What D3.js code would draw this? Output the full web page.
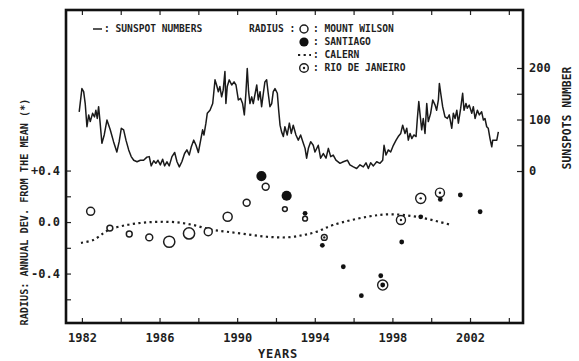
<!DOCTYPE html>
<html>
<head>
<meta charset="utf-8">
<script src="https://cdn.jsdelivr.net/npm/d3@7"></script>
<style>
  body { margin: 0; background: #fff; }
  svg { display: block; }
  text { font-family: "DejaVu Sans Mono", monospace; fill: #1e1e1e; }
</style>
</head>
<body>
<div id="chart"></div>
<script>
// sunspot numbers, [year, number]
const sunspots = [
  [1981.86,115],[1982.00,160],[1982.09,154],[1982.17,131],[1982.26,86],[1982.35,109],[1982.43,96],[1982.55,112],
  [1982.65,105],[1982.72,118],[1982.79,102],[1982.86,125],[1982.94,93],[1983.03,54],[1983.15,70],[1983.29,99],
  [1983.46,80],[1983.63,57],[1983.80,37],[1983.92,57],[1984.03,83],[1984.15,80],[1984.27,60],[1984.41,41],
  [1984.54,28],[1984.67,21],[1984.84,18],[1985.01,21],[1985.18,21],[1985.35,27],[1985.47,28],[1985.57,10],
  [1985.70,20],[1985.81,15],[1985.92,21],[1986.04,12],[1986.16,23],[1986.26,10],[1986.38,18],[1986.50,10],
  [1986.64,28],[1986.78,36],[1986.90,18],[1987.02,8],[1987.15,18],[1987.29,34],[1987.41,41],[1987.53,31],
  [1987.63,46],[1987.76,60],[1987.88,50],[1988.00,36],[1988.12,60],[1988.22,80],[1988.29,70],[1988.39,93],
  [1988.46,112],[1988.60,118],[1988.74,131],[1988.80,154],[1988.86,177],[1988.94,167],[1989.03,154],[1989.11,164],
  [1989.20,144],[1989.28,157],[1989.37,193],[1989.42,131],[1989.49,164],[1989.59,177],[1989.72,167],[1989.84,173],
  [1989.94,167],[1990.06,138],[1990.18,141],[1990.28,131],[1990.37,109],[1990.45,151],[1990.52,199],[1990.59,154],
  [1990.66,131],[1990.75,144],[1990.83,131],[1990.93,151],[1991.01,167],[1991.09,138],[1991.18,154],[1991.26,125],
  [1991.35,151],[1991.43,173],[1991.52,177],[1991.60,151],[1991.69,125],[1991.78,131],[1991.86,154],[1991.95,160],
  [1992.07,151],[1992.14,118],[1992.21,89],[1992.29,76],[1992.38,67],[1992.46,86],[1992.58,70],[1992.69,93],
  [1992.79,73],[1992.89,89],[1993.03,70],[1993.15,60],[1993.27,70],[1993.41,54],[1993.50,44],[1993.58,25],
  [1993.67,44],[1993.79,57],[1993.92,50],[1994.01,37],[1994.18,50],[1994.30,25],[1994.44,34],[1994.58,25],
  [1994.70,44],[1994.82,28],[1994.95,31],[1995.09,21],[1995.30,15],[1995.47,18],[1995.68,21],[1995.81,12],
  [1995.99,8],[1996.16,5],[1996.33,12],[1996.50,8],[1996.64,16],[1996.76,5],[1996.88,16],[1997.02,10],
  [1997.19,18],[1997.36,15],[1997.50,21],[1997.57,50],[1997.67,31],[1997.79,41],[1997.91,37],[1998.05,50],
  [1998.19,60],[1998.30,67],[1998.43,73],[1998.53,89],[1998.65,73],[1998.74,83],[1998.82,60],[1998.91,73],
  [1999.00,63],[1999.11,70],[1999.22,67],[1999.28,99],[1999.36,135],[1999.42,112],[1999.51,80],[1999.59,102],
  [1999.68,73],[1999.77,131],[1999.85,96],[1999.97,112],[2000.08,138],[2000.20,128],[2000.28,118],[2000.37,138],
  [2000.42,170],[2000.49,151],[2000.59,125],[2000.71,105],[2000.83,102],[2000.93,109],[2001.06,83],[2001.14,112],
  [2001.23,102],[2001.32,118],[2001.40,93],[2001.52,122],[2001.62,151],[2001.69,118],[2001.79,131],[2001.86,122],
  [2001.96,128],[2002.09,112],[2002.17,125],[2002.26,102],[2002.38,118],[2002.48,109],[2002.60,115],[2002.69,99],
  [2002.77,102],[2002.86,86],[2002.94,83],[2003.03,63],[2003.12,47],[2003.17,60],[2003.29,60],[2003.38,60],
  [2003.46,76]
];

// Calern radius curve, [year, deviation]
const calern = [
  [1981.95,-0.161],[1982.58,-0.140],[1983.10,-0.088],[1983.44,-0.057],[1984.30,-0.023],[1985.16,-0.005],
  [1986.00,0.002],[1986.88,-0.002],[1987.74,-0.023],[1988.60,-0.057],[1989.46,-0.075],[1990.49,-0.095],
  [1991.52,-0.114],[1992.55,-0.119],[1993.41,-0.101],[1994.10,-0.075],[1994.94,-0.023],[1996.70,0.041],
  [1997.88,0.060],[1999.25,0.041],[2000.92,-0.018]
];

// radius points, [year, deviation, weight]
const mountWilson = [
  [1982.45,0.083,4],[1983.44,-0.047,2],[1984.44,-0.093,2],[1985.47,-0.119,3],[1986.50,-0.153,7],
  [1987.52,-0.088,7],[1988.51,-0.075,4],[1989.51,0.041,5],[1990.49,0.150,3],[1991.47,0.274,3],
  [1992.46,0.101,1],[1993.50,0.026,1]
];
const santiago = [
  [1991.25,0.357,6],[1992.55,0.204,6],[1993.50,0.068,1],[1994.39,-0.181,1],[1995.47,-0.347,1],
  [1996.40,-0.572,1],[1997.40,-0.417,1],[1997.50,-0.489,1],[1998.48,-0.155,1],[1999.46,0.041,1],
  [2000.47,0.176,1],[2001.50,0.210,1],[2002.52,0.080,1]
];
const rioDeJaneiro = [
  [1994.49,-0.119,2],[1997.50,-0.489,6],[1998.44,0.016,5],[1999.46,0.184,6],[2000.45,0.228,5]
];

const yearTicks = [1982,1984,1986,1988,1990,1992,1994,1996,1998,2000,2002,2004];
const yearLabels = [1982,1986,1990,1994,1998,2002];
const devTicks = [-0.6,-0.4,-0.2,0,0.2,0.4];
const devLabels = [-0.4,0,0.4];
const sunTicks = [0,50,100,150,200];
const sunLabels = [0,100,200];

const W = 579, H = 361;
const m = {l: 66, r: 523, t: 10, b: 323};

const svg = d3.select('#chart').append('svg')
  .attr('width', W).attr('height', H);

const x = d3.scaleLinear().domain([1981.18, 2004.73]).range([m.l, m.r]);
const yDev = d3.scaleLinear().domain([-0.784, 1.647]).range([m.b, m.t]);
const ySun = d3.scaleLinear().domain([-295, 312.6]).range([m.b, m.t]);
const rW = d3.scaleLinear().domain([1, 7]).range([2.4, 5.6]);

// axes (ticks point inward, frame drawn separately)
function styleAxis(g) {
  g.select('.domain').remove();
  g.selectAll('.tick line').attr('stroke', '#222').attr('stroke-width', 1.2);
  g.selectAll('.tick text').style('font-family', '"DejaVu Sans Mono", monospace')
    .style('font-size', '12px').style('font-weight', 'bold').attr('fill', '#2a2a2a');
}

svg.append('g').attr('transform', `translate(0,${m.b})`)
  .call(d3.axisBottom(x).tickValues(yearTicks).tickSize(-5).tickPadding(10)
    .tickFormat(d => yearLabels.includes(d) ? d : ''))
  .call(styleAxis);

svg.append('g').attr('transform', `translate(0,${m.t})`)
  .call(d3.axisTop(x).tickValues(yearTicks).tickSize(-5).tickFormat(''))
  .call(styleAxis);

svg.append('g').attr('transform', `translate(${m.l},0)`)
  .call(d3.axisLeft(yDev).tickValues(devTicks).tickSize(-5).tickPadding(6)
    .tickFormat(d => devLabels.includes(d) ? (d > 0 ? '+' : '') + d.toFixed(1) : ''))
  .call(styleAxis);

svg.append('g').attr('transform', `translate(${m.r},0)`)
  .call(d3.axisRight(ySun).tickValues(sunTicks).tickSize(-6).tickPadding(6)
    .tickFormat(d => sunLabels.includes(d) ? d : ''))
  .call(styleAxis);

svg.append('rect')
  .attr('x', m.l).attr('y', m.t)
  .attr('width', m.r - m.l).attr('height', m.b - m.t)
  .attr('fill', 'none').attr('stroke', '#111').attr('stroke-width', 2.6);

// sunspot line
svg.append('path')
  .datum(sunspots)
  .attr('d', d3.line().x(d => x(d[0])).y(d => ySun(d[1])))
  .attr('fill', 'none').attr('stroke', '#1a1a1a')
  .attr('stroke-width', 1.5).attr('stroke-linejoin', 'round');

// calern dotted curve
svg.append('path')
  .datum(calern)
  .attr('d', d3.line().curve(d3.curveCatmullRom).x(d => x(d[0])).y(d => yDev(d[1])))
  .attr('fill', 'none').attr('stroke', '#1e1e1e')
  .attr('stroke-width', 2.2).attr('stroke-dasharray', '2.2 3.4');

// mount wilson open circles
svg.append('g').selectAll('circle')
  .data(mountWilson).enter().append('circle')
  .attr('cx', d => x(d[0])).attr('cy', d => yDev(d[1])).attr('r', d => rW(d[2]))
  .attr('fill', '#fff').attr('stroke', '#1e1e1e').attr('stroke-width', 1.5);

// rio de janeiro circle with dot
const rio = svg.append('g').selectAll('g')
  .data(rioDeJaneiro).enter().append('g')
  .attr('transform', d => `translate(${x(d[0])},${yDev(d[1])})`);
rio.append('circle').attr('r', d => rW(d[2]))
  .attr('fill', '#fff').attr('stroke', '#1e1e1e').attr('stroke-width', 1.4);
rio.append('circle').attr('r', 1.2).attr('fill', '#1e1e1e');

// santiago filled
svg.append('g').selectAll('circle')
  .data(santiago).enter().append('circle')
  .attr('cx', d => x(d[0])).attr('cy', d => yDev(d[1])).attr('r', d => rW(d[2]))
  .attr('fill', '#111');

// legend
const lg = svg.append('g').style('font-size', '9.6px').style('font-weight', 'bold');
lg.append('line').attr('x1', 93).attr('x2', 102).attr('y1', 29).attr('y2', 29)
  .attr('stroke', '#1e1e1e').attr('stroke-width', 1.5);
lg.append('text').attr('x', 104).attr('y', 32).text(': SUNSPOT NUMBERS');
lg.append('text').attr('x', 249).attr('y', 32).text('RADIUS :');

const legendRows = ['MOUNT WILSON', 'SANTIAGO', 'CALERN', 'RIO DE JANEIRO'];
const rowY = [29, 42, 55, 68];
legendRows.forEach((name, i) => {
  lg.append('text').attr('x', 313).attr('y', rowY[i] + 3).text(': ' + name);
});
lg.append('circle').attr('cx', 304).attr('cy', rowY[0]).attr('r', 4)
  .attr('fill', '#fff').attr('stroke', '#1e1e1e').attr('stroke-width', 1.5);
lg.append('circle').attr('cx', 304).attr('cy', rowY[1]).attr('r', 4.6).attr('fill', '#111');
lg.append('line').attr('x1', 298).attr('x2', 311).attr('y1', rowY[2]).attr('y2', rowY[2])
  .attr('stroke', '#1e1e1e').attr('stroke-width', 2.2).attr('stroke-dasharray', '2.2 3.4');
lg.append('circle').attr('cx', 304).attr('cy', rowY[3]).attr('r', 4.3)
  .attr('fill', '#fff').attr('stroke', '#1e1e1e').attr('stroke-width', 1.4);
lg.append('circle').attr('cx', 304).attr('cy', rowY[3]).attr('r', 1.2).attr('fill', '#1e1e1e');

// axis titles
svg.append('text').attr('x', 278).attr('y', 358).attr('text-anchor', 'middle')
  .style('font-size', '12px').style('font-weight', 'bold').style('letter-spacing', '0.8px')
  .text('YEARS');
svg.append('text').attr('transform', 'translate(28,212) rotate(-90)').attr('text-anchor', 'middle')
  .style('font-size', '10.2px').style('font-weight', 'bold')
  .text('RADIUS: ANNUAL DEV. FROM THE MEAN (*)');
svg.append('text').attr('transform', 'translate(571,118) rotate(-90)').attr('text-anchor', 'middle')
  .style('font-size', '11.4px').style('font-weight', 'bold')
  .text('SUNSPOTS NUMBER');
</script>
</body>
</html>
